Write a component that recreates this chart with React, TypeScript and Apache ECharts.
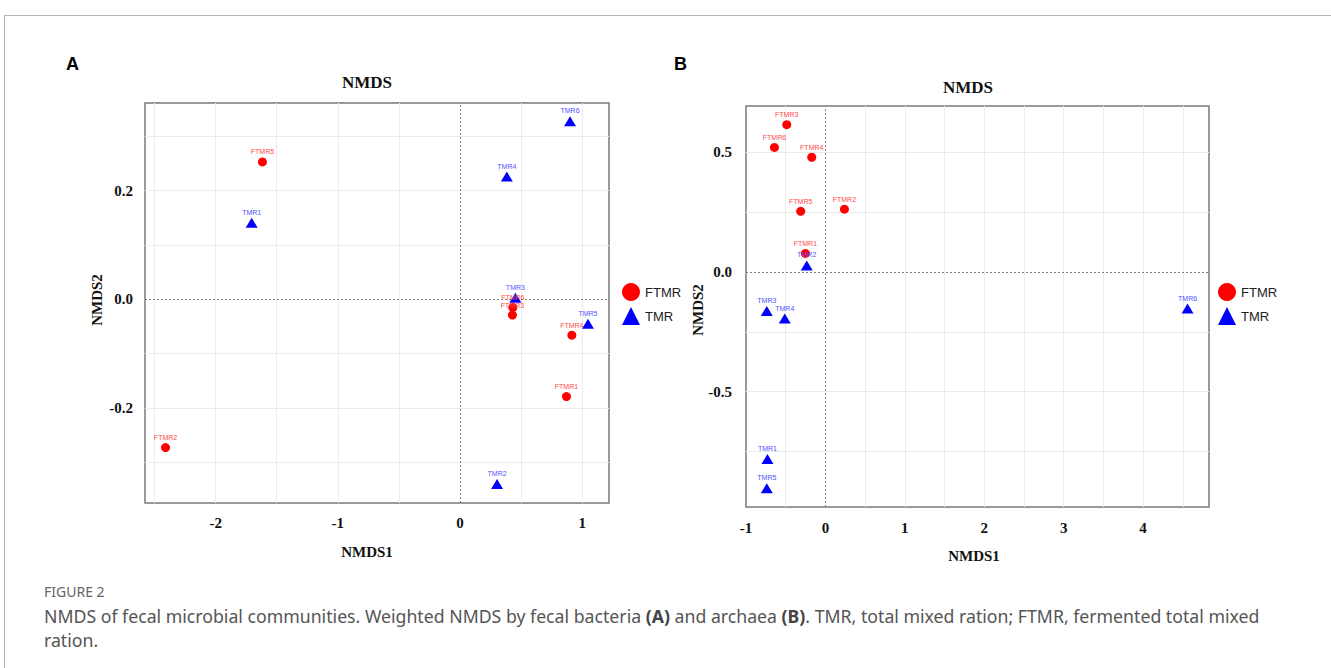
import React, { useEffect, useRef } from "react";
import * as echarts from "echarts";

// Panel A (bacteria): [label, NMDS1, NMDS2]
const bactFTMR: [string, number, number][] = [
  ["FTMR1", 0.871, -0.179],
  ["FTMR2", -2.41, -0.273],
  ["FTMR3", 0.429, -0.029],
  ["FTMR4", 0.915, -0.066],
  ["FTMR5", -1.617, 0.253],
  ["FTMR6", 0.432, -0.015],
];
const bactTMR: [string, number, number][] = [
  ["TMR1", -1.705, 0.141],
  ["TMR2", 0.303, -0.34],
  ["TMR3", 0.453, 0.003],
  ["TMR4", 0.383, 0.226],
  ["TMR5", 1.047, -0.045],
  ["TMR6", 0.9, 0.328],
];
// Panel B (archaea)
const archFTMR: [string, number, number][] = [
  ["FTMR1", -0.252, 0.077],
  ["FTMR2", 0.239, 0.262],
  ["FTMR3", -0.487, 0.615],
  ["FTMR4", -0.172, 0.479],
  ["FTMR5", -0.311, 0.253],
  ["FTMR6", -0.642, 0.52],
];
const archTMR: [string, number, number][] = [
  ["TMR1", -0.73, -0.782],
  ["TMR2", -0.235, 0.027],
  ["TMR3", -0.738, -0.163],
  ["TMR4", -0.512, -0.195],
  ["TMR5", -0.738, -0.904],
  ["TMR6", 4.56, -0.153],
];

// tick labels & grid lines
const aXTicks = [-2, -1, 0, 1];
const aYTicks = [-0.2, 0, 0.2];
const aXGrid = [-2.5, -2, -1.5, -1, -0.5, 0.5, 1];
const aYGrid = [-0.3, -0.2, -0.1, 0.1, 0.2, 0.3];
const bXTicks = [-1, 0, 1, 2, 3, 4];
const bYTicks = [-0.5, 0, 0.5];
const bXGrid = [-0.5, 0.5, 1, 1.5, 2, 2.5, 3, 3.5, 4, 4.5];
const bYGrid = [-0.75, -0.5, -0.25, 0.25, 0.5];

const SERIF = "'Liberation Serif', 'DejaVu Serif', serif";
const SANS = "'Liberation Sans', Arial, sans-serif";

function fmtTick(ticks: number[], dec: number) {
  return (v: number) => {
    const hit = ticks.find((t) => Math.abs(t - v) < 1e-6);
    if (hit === undefined) return "";
    return dec > 0 ? hit.toFixed(dec) : String(hit);
  };
}

function valueAxis(
  gridIndex: number,
  min: number,
  max: number,
  ticks: number[],
  dec: number,
  splitNumber: number,
  margin: number
) {
  return {
    type: "value",
    gridIndex,
    min,
    max,
    splitNumber,
    axisLine: { show: false },
    axisTick: { show: false },
    splitLine: { show: false },
    axisLabel: {
      customValues: ticks,
      formatter: fmtTick(ticks, dec),
      fontFamily: SERIF,
      fontWeight: "bold",
      fontSize: 15,
      color: "#111",
      margin,
      showMinLabel: true,
      showMaxLabel: true,
    },
  };
}

function pts(d: [string, number, number][]) {
  return d.map(([n, x, y]) => ({ name: n, value: [x, y] }));
}

function scatter(
  name: string,
  data: [string, number, number][],
  idx: number,
  isTri: boolean
) {
  return {
    type: "scatter",
    name,
    xAxisIndex: idx,
    yAxisIndex: idx,
    data: pts(data),
    symbol: isTri ? "triangle" : "circle",
    symbolSize: isTri ? [12, 10] : 9,
    z: 5,
    itemStyle: { color: isTri ? "#0000ff" : "#ff0000", opacity: 1 },
    label: {
      show: true,
      position: "top",
      distance: 2,
      formatter: (p: any) => p.name,
      fontSize: 7,
      fontFamily: SANS,
      color: isTri ? "#5252ff" : "#ff4a4a",
    },
    emphasis: { disabled: true },
  };
}

function gridSeries(idx: number, xs: number[], ys: number[]) {
  return [
    {
      type: "line",
      name: "grid" + idx,
      xAxisIndex: idx,
      yAxisIndex: idx,
      data: [],
      z: 1,
      silent: true,
      markLine: {
        silent: true,
        symbol: "none",
        label: { show: false },
        animation: false,
        lineStyle: { color: "#ebebeb", width: 1, type: "solid" },
        data: [
          ...xs.map((v) => ({ xAxis: v })),
          ...ys.map((v) => ({ yAxis: v })),
        ],
      },
    },
    {
      type: "line",
      name: "zero" + idx,
      xAxisIndex: idx,
      yAxisIndex: idx,
      data: [],
      z: 2,
      silent: true,
      markLine: {
        silent: true,
        symbol: "none",
        label: { show: false },
        animation: false,
        lineStyle: { color: "#808080", width: 1, type: [2, 2] },
        data: [{ xAxis: 0 }, { yAxis: 0 }],
      },
    },
  ];
}

export default function App() {
  const ref = useRef<HTMLDivElement>(null);
  useEffect(() => {
    if (!ref.current) return;
    const chart = echarts.init(ref.current, undefined, { renderer: "svg" });
    const legendCommon = {
      orient: "vertical",
      padding: 0,
      itemWidth: 18,
      itemHeight: 18,
      itemGap: 6,
      selectedMode: false,
      textStyle: { fontFamily: SANS, fontSize: 13, color: "#222" },
      data: [
        { name: "FTMR", icon: "circle" },
        { name: "TMR", icon: "triangle" },
      ],
    };
    const option: any = {
      animation: false,
      backgroundColor: "#ffffff",
      grid: [
        {
          left: 145,
          top: 103,
          width: 464,
          height: 400,
          show: true,
          borderColor: "#7a7a7a",
          borderWidth: 1.5,
          backgroundColor: "transparent",
        },
        {
          left: 746,
          top: 106,
          width: 463,
          height: 401,
          show: true,
          borderColor: "#7a7a7a",
          borderWidth: 1.5,
          backgroundColor: "transparent",
        },
      ],
      xAxis: [
        valueAxis(0, -2.578, 1.219, aXTicks, 0, 5, 12),
        valueAxis(1, -1.0, 4.83, bXTicks, 0, 5, 13),
      ],
      yAxis: [
        valueAxis(0, -0.375, 0.3615, aYTicks, 1, 3, 12),
        valueAxis(1, -0.982, 0.693, bYTicks, 1, 3, 14),
      ],
      legend: [
        { ...legendCommon, left: 622, top: 283 },
        { ...legendCommon, left: 1218, top: 283 },
      ],
      series: [
        ...gridSeries(0, aXGrid, aYGrid),
        ...gridSeries(1, bXGrid, bYGrid),
        scatter("FTMR", bactFTMR, 0, false),
        scatter("TMR", bactTMR, 0, true),
        scatter("FTMR", archFTMR, 1, false),
        scatter("TMR", archTMR, 1, true),
      ],
      graphic: [
        { type: "line", shape: { x1: 4, y1: 15.5, x2: 1331, y2: 15.5 }, style: { stroke: "#b5b5b5", lineWidth: 1 }, silent: true },
        { type: "line", shape: { x1: 4.5, y1: 15, x2: 4.5, y2: 668 }, style: { stroke: "#b5b5b5", lineWidth: 1 }, silent: true },
        { type: "text", left: 66, top: 55, style: { text: "A", font: `bold 18px ${SANS}`, fill: "#000" } },
        { type: "text", left: 674, top: 55, style: { text: "B", font: `bold 18px ${SANS}`, fill: "#000" } },
        { type: "text", x: 367, y: 82, style: { text: "NMDS", font: `bold 17px ${SERIF}`, fill: "#111", align: "center", verticalAlign: "middle" } },
        { type: "text", x: 968, y: 87, style: { text: "NMDS", font: `bold 17px ${SERIF}`, fill: "#111", align: "center", verticalAlign: "middle" } },
        { type: "text", x: 367, y: 552, style: { text: "NMDS1", font: `bold 15px ${SERIF}`, fill: "#111", align: "center", verticalAlign: "middle" } },
        { type: "text", x: 974, y: 556, style: { text: "NMDS1", font: `bold 15px ${SERIF}`, fill: "#111", align: "center", verticalAlign: "middle" } },
        { type: "text", x: 97, y: 300, rotation: Math.PI / 2, style: { text: "NMDS2", font: `bold 15px ${SERIF}`, fill: "#111", align: "center", verticalAlign: "middle" } },
        { type: "text", x: 698, y: 310, rotation: Math.PI / 2, style: { text: "NMDS2", font: `bold 15px ${SERIF}`, fill: "#111", align: "center", verticalAlign: "middle" } },
        { type: "text", left: 44, top: 584, style: { text: "FIGURE 2", font: `14px 'Noto Sans', sans-serif`, fill: "#666" } },
        {
          type: "text",
          left: 44,
          top: 604,
          style: {
            text: "NMDS of fecal microbial communities. Weighted NMDS by fecal bacteria {b|(A)} and archaea {b|(B)}. TMR, total mixed ration; FTMR, fermented total mixed\nration.",
            font: `17.7px 'Noto Sans', sans-serif`,
            fill: "#555",
            lineHeight: 24,
            rich: {
              b: { fontWeight: "bold", fontSize: 17.7, fontFamily: "'Noto Sans', sans-serif", fill: "#444", lineHeight: 24 },
            },
          },
        },
      ],
    };
    chart.setOption(option);
    return () => chart.dispose();
  }, []);
  return (
    <div
      ref={ref}
      style={{ position: "absolute", left: 0, top: 0, width: 1331, height: 668 }}
    />
  );
}
